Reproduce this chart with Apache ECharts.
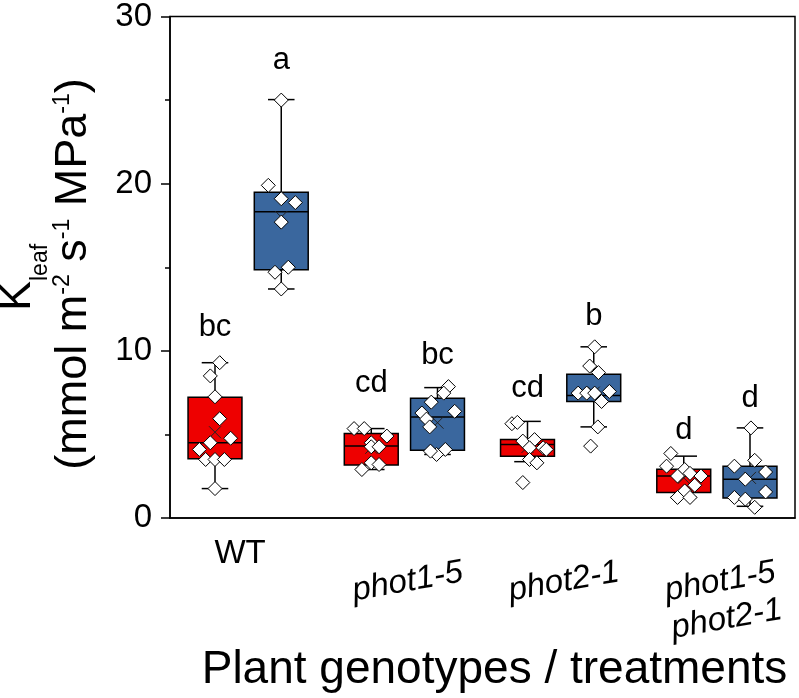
<!DOCTYPE html>
<html><head><meta charset="utf-8">
<script src="https://cdn.jsdelivr.net/npm/echarts@6/dist/echarts.min.js"></script>
<style>html,body{margin:0;padding:0;background:#fff}#c{width:799px;height:698px}</style>
</head><body><div id="c"></div>
<script>
// ---------- data ----------
const categories = ['WT', 'phot1-5', 'phot2-1', 'phot1-5\nphot2-1'];
const yTickValues = [0, 10, 20, 30];
// box statistics per genotype: [min, q1, median, q3, max, mean]
const redBoxes = [
  [1.76, 3.55, 4.5, 7.23, 9.29, 5.13],
  [2.9, 3.17, 4.3, 5.05, 5.35, 4.2],
  [3.37, 3.70, 4.4, 4.69, 5.78, 4.25],
  [1.23, 1.52, 2.51, 2.91, 3.7, 2.4]
];
const blueBoxes = [
  [13.7, 14.85, 18.32, 19.49, 25.03, 18.0],
  [3.8, 4.06, 6.04, 7.17, 7.8, 5.7],
  [5.45, 6.97, 7.33, 8.6, 10.24, 7.5],
  [0.7, 1.19, 2.32, 3.1, 5.39, 2.4]
];
// individual measurements per genotype
const redPoints = [
  [9.29, 8.5, 7.25, 5.94, 4.77, 4.5, 4.1, 3.5, 3.5, 3.5, 1.76],
  [5.35, 5.35, 4.9, 4.5, 4.26, 4.26, 3.3, 3.2, 2.9],
  [5.64, 5.72, 4.6, 4.69, 4.2, 4.2, 4.1, 3.5, 3.3, 2.12],
  [3.86, 3.1, 2.9, 2.67, 2.51, 2.51, 1.96, 1.62, 1.23, 1.23]
];
const bluePoints = [
  [25.0, 19.9, 19.1, 18.87, 17.7, 15.0, 14.7, 13.7],
  [7.86, 7.47, 6.93, 6.38, 6.28, 5.92, 5.45, 4.1, 3.8, 4.0],
  [10.24, 9.09, 8.7, 7.47, 7.47, 7.47, 7.57, 6.97, 5.45, 4.3],
  [5.39, 3.45, 3.1, 2.75, 2.32, 1.56, 1.23, 1.13, 0.64]
];
// horizontal jitter of each point, in fractions of a category band
const redJitter = [
  [0.03, -0.03, 0, 0.03, 0.1, -0.03, -0.1, -0.06, 0, 0.06, 0],
  [-0.11, -0.045, 0.1, 0, 0, 0.05, 0, 0.05, -0.06],
  [-0.1, -0.065, -0.03, 0.045, 0.013, 0.1, 0.12, 0.013, 0.06, -0.03],
  [-0.083, -0.11, 0.006, 0.04, -0.04, 0.11, 0.07, 0.006, -0.04, 0.04]
];
const blueJitter = [
  [0, -0.083, 0, 0.09, 0, 0.045, -0.04, 0],
  [0.07, 0.04, -0.04, 0.11, -0.1, -0.07, -0.05, 0.05, -0.006, -0.045],
  [0.006, -0.026, 0.03, -0.1, -0.045, 0.006, 0.1, 0.05, 0.026, -0.02],
  [0.006, 0.03, -0.1, 0.1, -0.03, 0.1, -0.1, -0.03, 0.03]
];
// significance letters and the value at which each sits
const redLetters = ['bc', 'cd', 'cd', 'd'];
const redLetterY = [10.45, 7.1, 6.85, 4.3];
const blueLetters = ['a', 'bc', 'b', 'd'];
const blueLetterY = [26.45, 8.8, 11.1, 6.2];

// ---------- styling ----------
const FONT = "'Liberation Sans', Arial, sans-serif";
const RED = '#ee0000', BLUE = '#3a679e';
const OFFSET = 0.212, BOXW = 0.345, CAPW = 0.17;

function boxData(boxes) { return boxes.map((b, i) => [i].concat(b)); }
function pointData(points, jitter) {
  const out = [];
  points.forEach((arr, i) => arr.forEach((v, j) => out.push([i, v, jitter[i][j]])));
  return out;
}
function letterData(letters, ys) { return letters.map((t, i) => [i, ys[i], t]); }

function boxRender(color, side) {
  return function (params, api) {
    const cat = api.value(0);
    const band = api.size([1, 0])[0];
    const cx = api.coord([cat, 0])[0] + side * OFFSET * band;
    const Y = v => api.coord([cat, v])[1];
    const w = BOXW * band, cw = CAPW * band;
    const mn = Y(api.value(1)), q1 = Y(api.value(2)), md = Y(api.value(3)),
          q3 = Y(api.value(4)), mx = Y(api.value(5)), mean = Y(api.value(6));
    const ls = { stroke: '#000', lineWidth: 1.5 };
    const m = 6;
    return {
      type: 'group',
      children: [
        { type: 'line', shape: { x1: cx, y1: mx, x2: cx, y2: q3 }, style: ls },
        { type: 'line', shape: { x1: cx, y1: q1, x2: cx, y2: mn }, style: ls },
        { type: 'line', shape: { x1: cx - cw / 2, y1: mx, x2: cx + cw / 2, y2: mx }, style: ls },
        { type: 'line', shape: { x1: cx - cw / 2, y1: mn, x2: cx + cw / 2, y2: mn }, style: ls },
        { type: 'rect', shape: { x: cx - w / 2, y: q3, width: w, height: q1 - q3 }, style: { fill: color, stroke: '#000', lineWidth: 1.5 } },
        { type: 'line', shape: { x1: cx - w / 2, y1: md, x2: cx + w / 2, y2: md }, style: ls },
        { type: 'line', shape: { x1: cx - m, y1: mean - m, x2: cx + m, y2: mean + m }, style: { stroke: '#222', lineWidth: 1 } },
        { type: 'line', shape: { x1: cx - m, y1: mean + m, x2: cx + m, y2: mean - m }, style: { stroke: '#222', lineWidth: 1 } }
      ]
    };
  };
}
function pointRender(side) {
  return function (params, api) {
    const cat = api.value(0);
    const band = api.size([1, 0])[0];
    const p = api.coord([cat, api.value(1)]);
    const x = p[0] + side * OFFSET * band + api.value(2) * band, y = p[1];
    const h = 7;
    return {
      type: 'polygon',
      shape: { points: [[x, y - h], [x + h, y], [x, y + h], [x - h, y]] },
      style: { fill: '#fff', stroke: '#000', lineWidth: 1 }
    };
  };
}
function letterRender(side) {
  return function (params, api) {
    const cat = api.value(0);
    const band = api.size([1, 0])[0];
    const p = api.coord([cat, api.value(1)]);
    return {
      type: 'text',
      style: {
        text: api.value(2), x: p[0] + side * OFFSET * band, y: p[1],
        align: 'center', verticalAlign: 'bottom', font: '31px ' + FONT, fill: '#000'
      }
    };
  };
}

const chart = echarts.init(document.getElementById('c'), null, { renderer: 'canvas' });
const option = {
  animation: false,
  backgroundColor: '#fff',
  grid: { left: 170, right: 4, top: 14, bottom: 179, show: true, borderColor: '#000', borderWidth: 1.5, containLabel: false },
  xAxis: [
    {
      type: 'category', data: categories, position: 'bottom',
      axisLine: { lineStyle: { color: '#000', width: 1.5 } },
      axisTick: { show: false },
      axisLabel: {
        interval: 0, margin: 19, fontSize: 33, fontFamily: FONT, color: '#000', padding: [0, 16, 0, 0],
        formatter: v => (v === 'WT' ? v : '')
      },
      name: 'Plant genotypes / treatments', nameLocation: 'middle', nameGap: 129,
      nameTextStyle: { fontSize: 46, fontFamily: FONT, color: '#000', padding: [0, 0, 0, 24] }
    },
    {
      type: 'category', position: 'bottom', gridIndex: 0, data: categories,
      axisLine: { show: false }, axisTick: { show: false },
      axisLabel: {
        interval: 0, hideOverlap: false, margin: 45, fontSize: 33, fontFamily: FONT, fontStyle: 'italic', color: '#000',
        rotate: 10, align: 'center', verticalAlign: 'top', lineHeight: 38,
        formatter: v => (v === 'WT' ? '' : v)
      }
    }
  ],
  yAxis: {
    type: 'value', min: yTickValues[0], max: yTickValues[yTickValues.length - 1], interval: 10,
    axisLine: { show: true, lineStyle: { color: '#000', width: 1.5 } },
    axisTick: { show: true, length: 9, lineStyle: { color: '#000', width: 1.5 } },
    minorTick: { show: true, splitNumber: 2, length: 5, lineStyle: { color: '#000', width: 1.5 } },
    splitLine: { show: false },
    axisLabel: { margin: 18, fontSize: 33, fontFamily: FONT, color: '#000' }
  },
  series: [
    { type: 'custom', renderItem: boxRender(RED, -1), data: boxData(redBoxes), encode: { x: 0, y: [1, 2, 3, 4, 5] }, z: 2 },
    { type: 'custom', renderItem: boxRender(BLUE, 1), data: boxData(blueBoxes), encode: { x: 0, y: [1, 2, 3, 4, 5] }, z: 2 },
    { type: 'custom', renderItem: pointRender(-1), data: pointData(redPoints, redJitter), encode: { x: 0, y: 1 }, z: 3 },
    { type: 'custom', renderItem: pointRender(1), data: pointData(bluePoints, blueJitter), encode: { x: 0, y: 1 }, z: 3 },
    { type: 'custom', renderItem: letterRender(-1), data: letterData(redLetters, redLetterY), encode: { x: 0, y: 1 }, z: 4 },
    { type: 'custom', renderItem: letterRender(1), data: letterData(blueLetters, blueLetterY), encode: { x: 0, y: 1 }, z: 4 }
  ],
  graphic: [
    {
      type: 'text', x: 17.5, y: 311, rotation: Math.PI / 2,
      style: { text: 'K', align: 'left', verticalAlign: 'middle', font: '45px ' + FONT, fill: '#000' }
    },
    {
      type: 'text', x: 41, y: 281, rotation: Math.PI / 2,
      style: { text: 'leaf', align: 'left', verticalAlign: 'middle', font: '23px ' + FONT, fill: '#000' }
    },
    {
      type: 'text', x: 51, y: 274, rotation: Math.PI / 2,
      style: {
        text: '{m|(mmol m}{p|-2}{m| s}{p|-1}{m| MPa}{p|-1}{m|)}', align: 'center', verticalAlign: 'top',
        rich: {
          m: { fontSize: 45, lineHeight: 45, fontFamily: FONT, fill: '#000', verticalAlign: 'top' },
          p: { fontSize: 23, lineHeight: 25, fontFamily: FONT, fill: '#000', verticalAlign: 'top' }
        }
      }
    }
  ]
};
chart.setOption(option);
</script>
</body></html>
